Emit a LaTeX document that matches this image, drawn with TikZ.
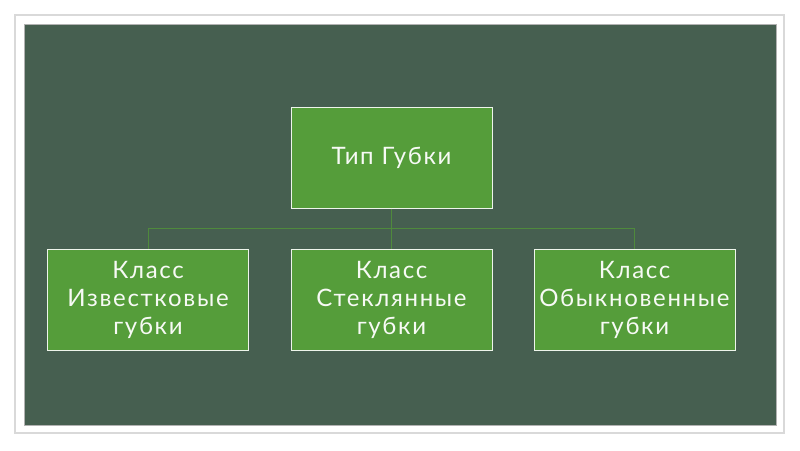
\documentclass[tikz,border=0pt]{standalone}
\usepackage{fontspec}
\setmainfont{Lato}[LetterSpace=7]
\definecolor{slidebg}{HTML}{465F50}
\definecolor{boxfill}{HTML}{559D3A}
\definecolor{linegreen}{HTML}{4F8A3C}
\definecolor{framegray}{HTML}{D9D9D9}
\begin{document}
\begin{tikzpicture}[x=1pt,y=-1pt,
  box/.style={draw=white!90!boxfill, line width=1pt, fill=boxfill, minimum width=201pt, minimum height=101pt,
    text=white!95!boxfill, align=center, inner sep=0pt, font=\fontsize{24}{28}\selectfont},
  boxtext/.style={anchor=north, align=center, text=white!95!boxfill, font=\fontsize{24}{28}\selectfont, inner sep=0pt},
  conn/.style={draw=linegreen, line width=0.8pt}]
\useasboundingbox (0,0) rectangle (800,450);
\fill[white] (0,0) rectangle (800,450);
\draw[framegray, line width=1.5pt] (15,15) rectangle (784,433);
\fill[slidebg] (24,24) rectangle (776,425);
\draw[gray!60, line width=0.6pt] (24,24) rectangle (776,425);
\node[box] (top) at (391.5,157.5) {Тип Губки};
\node[box, anchor=north] (left) at (148,249) {};
\node[box, anchor=north] (mid) at (391.5,249) {};
\node[box, anchor=north] (right) at (634.5,249) {};
\node[boxtext] (lt) at (148,261) {Класс\\Известковые\\губки};
\node[boxtext] (mt) at (391.5,261) {Класс\\Стеклянные\\губки};
\node[boxtext] (rt) at (634.5,261) {Класс\\Обыкновенные\\губки};
\coordinate (hub) at (391.5,228);
\draw[conn] (top.south) -- (hub);
\draw[conn] (hub) -| (left.north);
\draw[conn] (hub) -- (mid.north);
\draw[conn] (hub) -| (right.north);
\end{tikzpicture}
\end{document}
